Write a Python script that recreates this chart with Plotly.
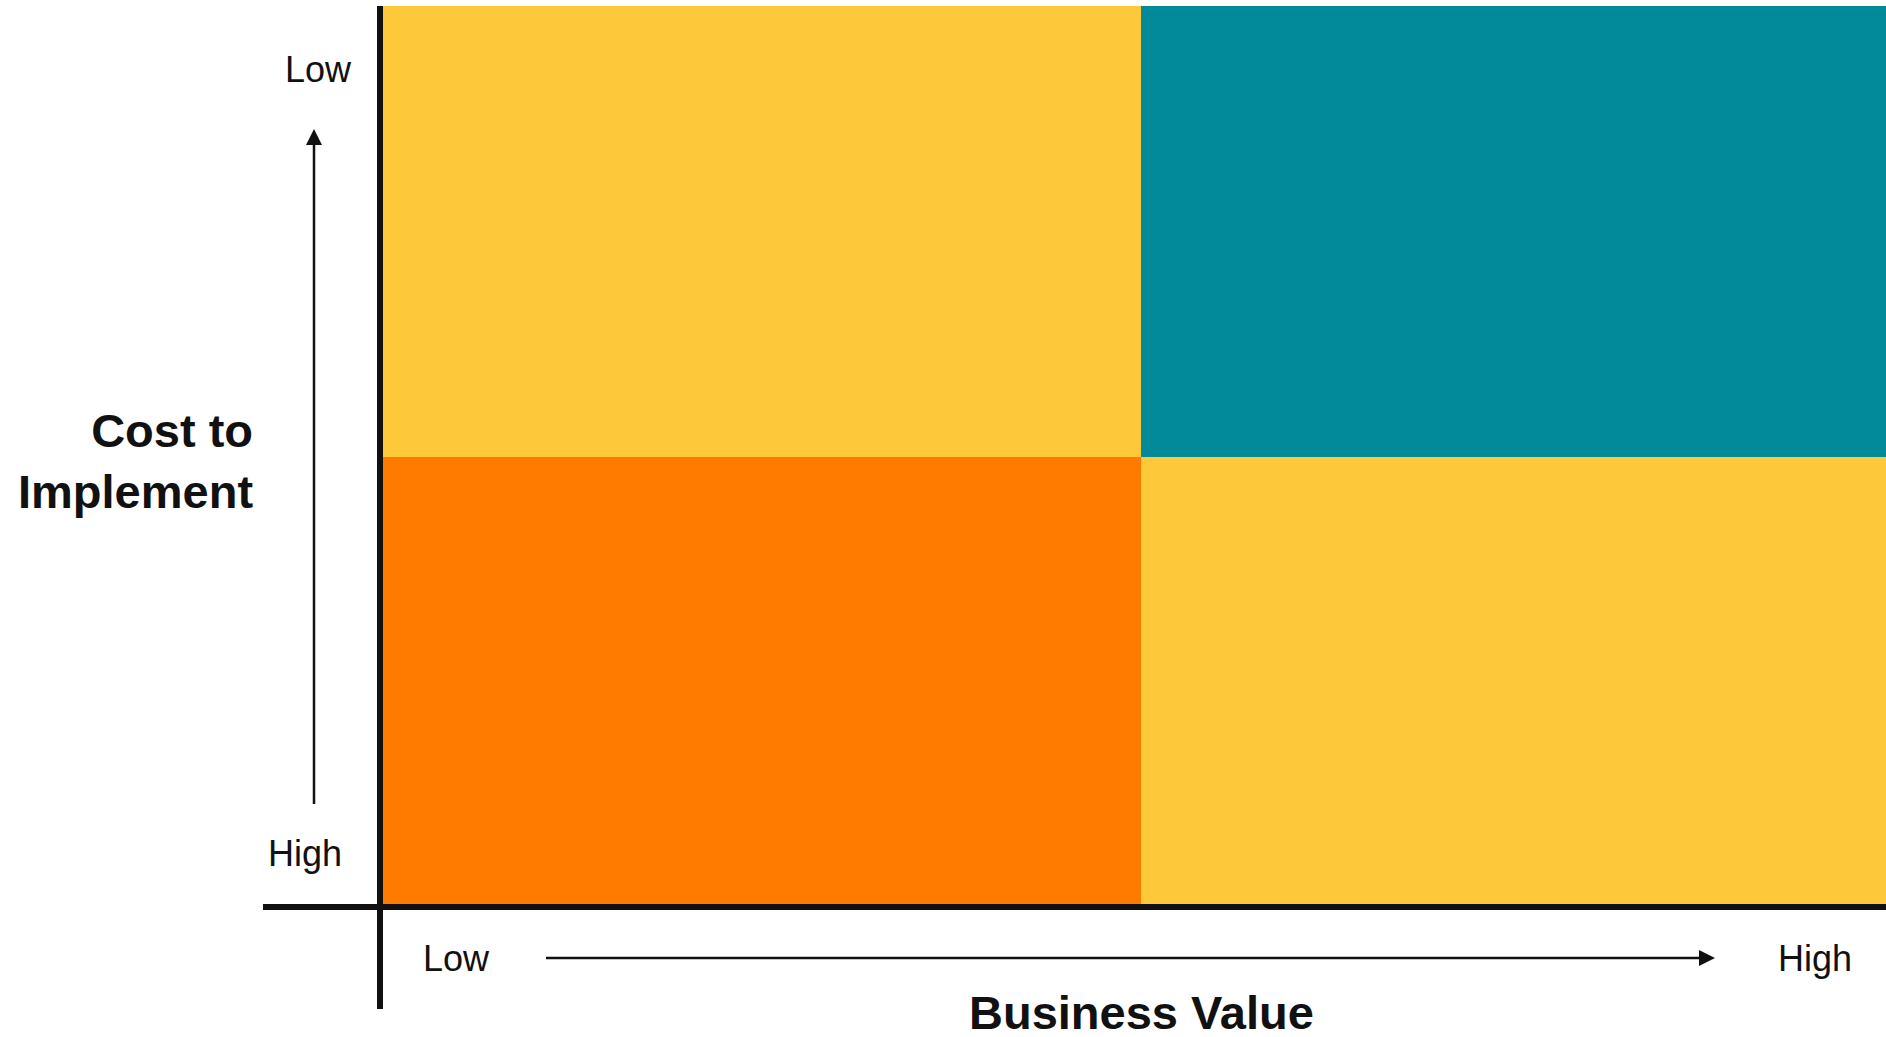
import plotly.graph_objects as go

# Quadrant matrix: business value (x) against cost to implement (y)
business_value = ["Low", "High"]          # left to right
cost_to_implement = ["High", "Low"]       # bottom to top
# quadrant class: 0 = avoid, 1 = consider, 2 = priority
quadrant_class = [
    [0, 1],   # high cost row
    [1, 2],   # low cost row
]
quadrant_colors = ["#FF7B00", "#FDC93A", "#02899A"]

W, H = 1886, 1037
FONT = "Liberation Sans, Arial, Helvetica, sans-serif"
INK = "#111111"


def px(x):
    return x / W


def py(y):
    return 1 - y / H


fig = go.Figure(
    go.Heatmap(
        x=business_value,
        y=cost_to_implement,
        z=quadrant_class,
        zmin=0,
        zmax=2,
        colorscale=[[0, quadrant_colors[0]], [0.5, quadrant_colors[1]], [1, quadrant_colors[2]]],
        showscale=False,
        hoverinfo="skip",
        xgap=0,
        ygap=0,
    )
)

# plot area in pixels; the bottom edge sits under the heavy horizontal rule
plot_left, plot_right, plot_top, plot_bottom = 383, 1886, 6, 908
split_x = 1141

x_span = (plot_right - plot_left) / (split_x - plot_left)

fig.update_xaxes(
    domain=[px(plot_left), px(plot_right)],
    range=[-0.5, -0.5 + x_span],
    showticklabels=False, showgrid=False, zeroline=False, showline=False, ticks="",
)
fig.update_yaxes(
    domain=[py(plot_bottom), py(plot_top)],
    range=[-0.5, 1.5],
    showticklabels=False, showgrid=False, zeroline=False, showline=False, ticks="",
)

shapes = []
# heavy axis lines
shapes.append(dict(type="line", xref="paper", yref="paper",
                   x0=px(380), x1=px(380), y0=py(6), y1=py(1009),
                   line=dict(color=INK, width=6)))
shapes.append(dict(type="line", xref="paper", yref="paper",
                   x0=px(263), x1=px(1886), y0=py(907), y1=py(907),
                   line=dict(color=INK, width=6)))

# vertical direction arrow (cost)
ax_x = 314
shapes.append(dict(type="line", xref="paper", yref="paper",
                   x0=px(ax_x), x1=px(ax_x), y0=py(804), y1=py(143),
                   line=dict(color=INK, width=2.5)))
shapes.append(dict(type="path", xref="paper", yref="paper",
                   path=f"M {px(ax_x)} {py(129)} L {px(ax_x - 8)} {py(145)} L {px(ax_x + 8)} {py(145)} Z",
                   fillcolor=INK, line=dict(color=INK, width=0)))

# horizontal direction arrow (business value)
ay_y = 958
shapes.append(dict(type="line", xref="paper", yref="paper",
                   x0=px(546), x1=px(1702), y0=py(ay_y), y1=py(ay_y),
                   line=dict(color=INK, width=2.5)))
shapes.append(dict(type="path", xref="paper", yref="paper",
                   path=f"M {px(1715)} {py(ay_y)} L {px(1699)} {py(ay_y - 8)} L {px(1699)} {py(ay_y + 8)} Z",
                   fillcolor=INK, line=dict(color=INK, width=0)))

annotations = [
    dict(text="Low", x=px(354), y=py(69), xanchor="right", yanchor="middle",
         font=dict(size=36, color=INK, family=FONT)),
    dict(text="High", x=px(344), y=py(853), xanchor="right", yanchor="middle",
         font=dict(size=36, color=INK, family=FONT)),
    dict(text="Low", x=px(421), y=py(958), xanchor="left", yanchor="middle",
         font=dict(size=36, color=INK, family=FONT)),
    dict(text="High", x=px(1776), y=py(958), xanchor="left", yanchor="middle",
         font=dict(size=36, color=INK, family=FONT)),
    dict(text="<b>Cost to</b><br><b>Implement</b>", x=px(255), y=py(461),
         xanchor="right", yanchor="middle", align="right",
         font=dict(size=47, color=INK, family=FONT)),
    dict(text="<b>Business Value</b>", x=px(1141), y=py(1012),
         xanchor="center", yanchor="middle",
         font=dict(size=47, color=INK, family=FONT)),
]
for a in annotations:
    a.update(xref="paper", yref="paper", showarrow=False)

fig.update_layout(
    width=W, height=H,
    margin=dict(l=0, r=0, t=0, b=0),
    paper_bgcolor="white",
    plot_bgcolor="white",
    shapes=shapes,
    annotations=annotations,
    showlegend=False,
)

fig.write_html("out.html", config={"displayModeBar": False})
